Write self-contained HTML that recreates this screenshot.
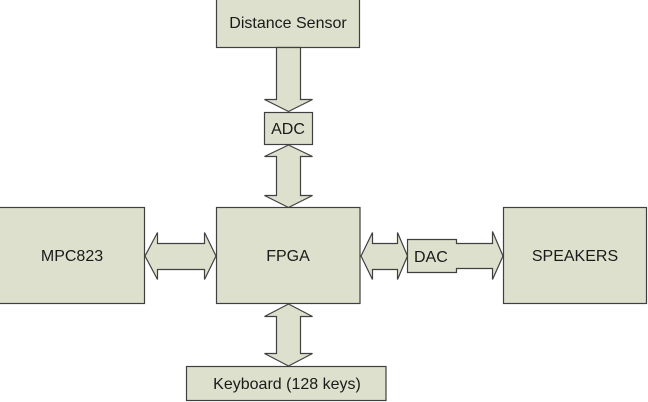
<!DOCTYPE html>
<html>
<head>
<meta charset="utf-8">
<style>
html,body{margin:0;padding:0;background:#fff;width:648px;height:402px;overflow:hidden}
svg{display:block}
text{font-family:"Liberation Sans",Arial,sans-serif;font-size:16px;fill:#1a1a1a}
</style>
</head>
<body>
<svg width="648" height="402" viewBox="0 0 648 402" xmlns="http://www.w3.org/2000/svg">
<g fill="#dde0cc" stroke="#404040" stroke-width="1.2" stroke-linejoin="miter">
  <!-- Distance Sensor -->
  <rect x="216.5" y="-1" width="143" height="48.5"/>
  <!-- Distance -> ADC arrow -->
  <polygon points="276.5,47.5 300.5,47.5 300.5,99.5 312.5,99.5 288.5,111.5 264.5,99.5 276.5,99.5"/>
  <!-- ADC -->
  <rect x="264.5" y="112.5" width="48" height="32"/>
  <!-- ADC <-> FPGA -->
  <polygon points="288.5,145 312.5,156.5 300.5,156.5 300.5,195.5 312.5,195.5 288.5,207.5 264.5,195.5 276.5,195.5 276.5,156.5 264.5,156.5"/>
  <!-- MPC823 -->
  <rect x="-1" y="207.5" width="145.5" height="96"/>
  <!-- FPGA -->
  <rect x="216.5" y="207.5" width="143.5" height="96"/>
  <!-- SPEAKERS -->
  <rect x="503.5" y="207.5" width="143" height="96"/>
  <!-- MPC <-> FPGA -->
  <polygon points="145,256 157.5,232.5 157.5,243.5 204.5,243.5 204.5,232.5 216,256 204.5,279.5 204.5,269.5 157.5,269.5 157.5,279.5"/>
  <!-- FPGA <-> DAC -->
  <polygon points="361,256 372.5,232.5 372.5,243.5 397.5,243.5 397.5,232.5 407.5,256 397.5,279.5 397.5,269.5 372.5,269.5 372.5,279.5"/>
  <!-- DAC shape with arrow to speakers -->
  <polygon points="407.5,239.5 456.5,239.5 456.5,243.5 492.5,243.5 492.5,231.5 503,256 492.5,279.5 492.5,268.5 456.5,268.5 456.5,272.5 407.5,272.5"/>
  <!-- FPGA <-> Keyboard -->
  <polygon points="288.5,304 312.5,316.5 300.5,316.5 300.5,353.5 312.5,353.5 288.5,366 264.5,353.5 276.5,353.5 276.5,316.5 264.5,316.5"/>
  <!-- Keyboard -->
  <rect x="186.5" y="366.5" width="199.5" height="34"/>
</g>
<g text-anchor="middle">
  <text x="288" y="28">Distance Sensor</text>
  <text x="288" y="134">ADC</text>
  <text x="72" y="261">MPC823</text>
  <text x="288" y="261">FPGA</text>
  <text x="575" y="261">SPEAKERS</text>
  <text x="287" y="389">Keyboard (128 keys)</text>
</g>
<text x="414" y="262">DAC</text>
</svg>
</body>
</html>
